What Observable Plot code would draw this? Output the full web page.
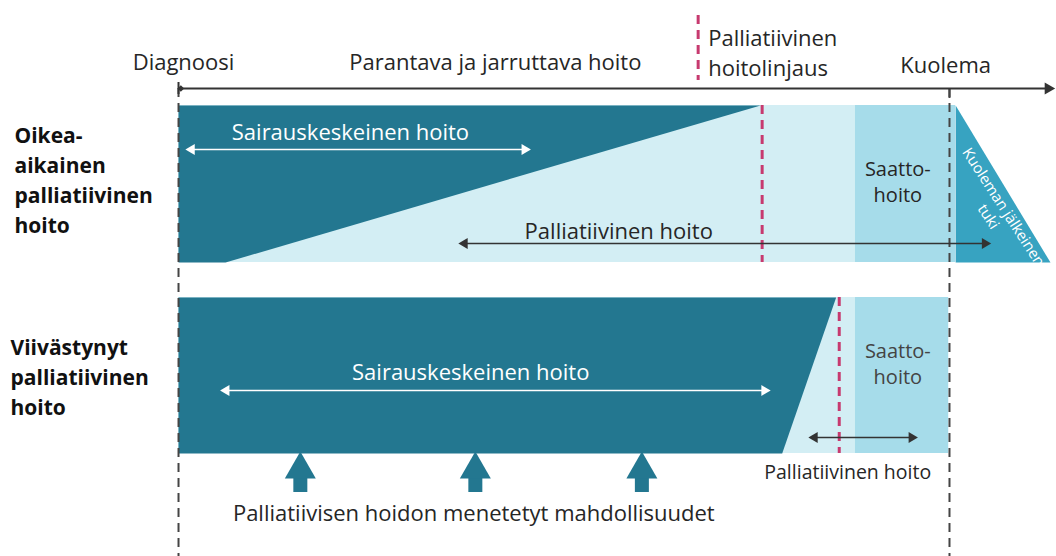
<!DOCTYPE html>
<html><head><meta charset="utf-8">
<script src="https://cdn.jsdelivr.net/npm/d3@7"></script>
<script src="https://cdn.jsdelivr.net/npm/@observablehq/plot@0.6"></script>
<style>
html,body{margin:0;padding:0;background:#fff;}
#chart svg{display:block;}
</style>
</head><body><div id="chart"></div>
<script>
// ---- Data (time units: 0 = diagnosis, 100 = death) ----
const milestoneLabels = ["Diagnoosi", "Parantava ja jarruttava hoito", "Palliatiivinen\nhoitolinjaus", "Kuolema"];
const milestoneTimes = [0.65, 41.1, 68.7, 99.5];
const headerDecision = 67.4;
const deathTime = 100;
const axisEnd = 113.4;

const rowLabels = ["Oikea-\naikainen\npalliatiivinen\nhoito", "Viivästynyt\npalliatiivinen\nhoito"];
const curativeEndTop = [75.5, 85.3];
const curativeEndBottom = [6.1, 78.3];
const decisionTime = [75.7, 85.7];
const endOfLifeStart = [87.8, 87.8];
const endOfLifeEnd = [100.8, 99.9];
const bereavementEnd = [113.1, null];

const curativeLabel = "Sairauskeskeinen hoito";
const curativeLabelTime = [22.3, 37.9];
const curativeArrow = [[1.2, 45.4], [5.7, 76.5]];
const palliativeLabel = "Palliatiivinen hoito";
const palliativeLabelTime = [57.1, 86.8];
const palliativeArrow = [[36.6, 105.1], [82.0, 95.6]];
const endOfLifeLabel = "Saatto-\nhoito";
const endOfLifeLabelTime = [93.3, 93.3];
const bereavementLabel = "Kuoleman jälkeinen\ntuki";
const bereavementLabelTime = 106.1;

const missedLabel = "Palliatiivisen hoidon menetetyt mahdollisuudet";
const missedChances = [15.8, 38.5, 60.1];
const missedLabelTime = 38.3;

// ---- Layout (pixels) ----
const rowTop = [105, 297], rowBottom = [262, 453];
const axisY = 88;
const C = {dark:"#237790", light:"#D3EEF4", eol:"#A6DCEA", post:"#37A3C1", mag:"#C73A6F", ink:"#262626"};
const font = "'Open Sans', 'Noto Sans', sans-serif";

const marks = [];
rowTop.forEach((top, i) => {
  const bot = rowBottom[i];
  marks.push(Plot.rect([0], {x1: 0, x2: endOfLifeStart[i], y1: top, y2: bot, fill: C.light}));
  marks.push(Plot.rect([0], {x1: endOfLifeStart[i], x2: endOfLifeEnd[i], y1: top, y2: bot, fill: C.eol}));
  const poly = [
    {t: 0, y: top}, {t: curativeEndTop[i], y: top},
    {t: curativeEndBottom[i], y: bot}, {t: 0, y: bot}
  ];
  marks.push(Plot.line(poly, {x: "t", y: "y", fill: C.dark, stroke: "none"}));
  if (bereavementEnd[i] != null) {
    const tri = [{t: endOfLifeEnd[i], y: top}, {t: bereavementEnd[i], y: bot}, {t: endOfLifeEnd[i], y: bot}];
    marks.push(Plot.line(tri, {x: "t", y: "y", fill: C.post, stroke: "none"}));
  }
  marks.push(Plot.ruleX([decisionTime[i]], {y1: top, y2: bot, stroke: C.mag, strokeWidth: 3, strokeDasharray: "9,6"}));
});

marks.push(Plot.ruleX([0, deathTime], {y1: axisY, y2: 556, stroke: "#444", strokeWidth: 2, strokeDasharray: "9,6"}));
marks.push(Plot.ruleX([deathTime], {y1: axisY, y2: 98, stroke: "#444", strokeWidth: 2}));
marks.push(Plot.ruleX([headerDecision], {y1: 15, y2: 80, stroke: C.mag, strokeWidth: 3, strokeDasharray: "9,6"}));
marks.push(Plot.ruleY([axisY], {x1: 0, x2: axisEnd - 0.5, stroke: "#333", strokeWidth: 2}));
marks.push(Plot.dot([axisEnd - 0.6], {x: d => d, y: axisY, symbol: "triangle", r: 4.5, rotate: 90, fill: "#333", stroke: "none"}));
marks.push(Plot.ruleX([0], {y1: axisY - 6, y2: axisY + 6, stroke: "#333", strokeWidth: 2}));
marks.push(Plot.dot([0.3], {x: d => d, y: axisY, symbol: "diamond2", r: 3, fill: "#333", stroke: "none"}));

function dbl(a, y, color, w) {
  marks.push(Plot.ruleY([y], {x1: a[0] + 0.5, x2: a[1] - 0.5, stroke: color, strokeWidth: w}));
  marks.push(Plot.dot([a[0] + 0.5], {x: d => d, y, symbol: "triangle", r: 4, rotate: -90, fill: color, stroke: "none"}));
  marks.push(Plot.dot([a[1] - 0.5], {x: d => d, y, symbol: "triangle", r: 4, rotate: 90, fill: color, stroke: "none"}));
}
dbl(curativeArrow[0], 149, "#fff", 1.3);
dbl(curativeArrow[1], 390, "#fff", 1.3);
dbl(palliativeArrow[0], 243, "#333", 1.3);
dbl(palliativeArrow[1], 437, "#333", 1.3);

marks.push(Plot.ruleX(missedChances, {y1: 474, y2: 492, stroke: C.dark, strokeWidth: 14}));
marks.push(Plot.dot(missedChances, {x: d => d, y: 469, symbol: "triangle", r: 11.5, fill: C.dark, stroke: "none"}));

const txt = (data, o) => marks.push(Plot.text(data, {fontFamily: font, fontSize: 22, lineHeight: 1.36, ...o}));
txt([0, 1], {x: i => milestoneTimes[i], y: 60, text: i => milestoneLabels[i], fill: C.ink});
txt([2], {x: i => milestoneTimes[i], y: 51, text: i => milestoneLabels[i], fill: C.ink, textAnchor: "start"});
txt([3], {x: i => milestoneTimes[i], y: 63, text: i => milestoneLabels[i], fill: C.ink});
txt([0], {frameAnchor: "left", dx: 14, y: 178, text: () => rowLabels[0], fill: "#111", fontWeight: "bold", fontSize: 21, textAnchor: "start", lineHeight: 1.42});
txt([1], {frameAnchor: "left", dx: 10, y: 375, text: () => rowLabels[1], fill: "#111", fontWeight: "bold", fontSize: 21, textAnchor: "start", lineHeight: 1.42});
txt([0], {x: curativeLabelTime[0], y: 130, text: () => curativeLabel, fill: "#fff"});
txt([0], {x: curativeLabelTime[1], y: 370, text: () => curativeLabel, fill: "#fff"});
txt([0], {x: palliativeLabelTime[0], y: 229, text: () => palliativeLabel, fill: C.ink});
txt([0], {x: palliativeLabelTime[1], y: 470, text: () => palliativeLabel, fill: C.ink, fontSize: 19.5});
txt([0], {x: endOfLifeLabelTime[0], y: 180, text: () => endOfLifeLabel, fill: C.ink, fontSize: 20, lineHeight: 1.3});
txt([0], {x: endOfLifeLabelTime[1], y: 362, text: () => endOfLifeLabel, fill: "#444", fontSize: 20, lineHeight: 1.3});
txt([0], {x: bereavementLabelTime, y: 211, text: () => bereavementLabel, fill: "#fff", fontSize: 15, lineHeight: 1.2, rotate: 57});
txt([0], {x: missedLabelTime, y: 511, text: () => missedLabel, fill: C.ink});

const chart = Plot.plot({
  width: 1056, height: 556,
  margin: 0,
  x: {type: "linear", domain: [-23.09, 113.88], range: [0, 1056], axis: null},
  y: {type: "linear", domain: [0, 556], range: [0, 556], axis: null},
  style: {background: "#fff", fontFamily: font},
  marks
});
document.getElementById("chart").appendChild(chart);
</script>
</body></html>
